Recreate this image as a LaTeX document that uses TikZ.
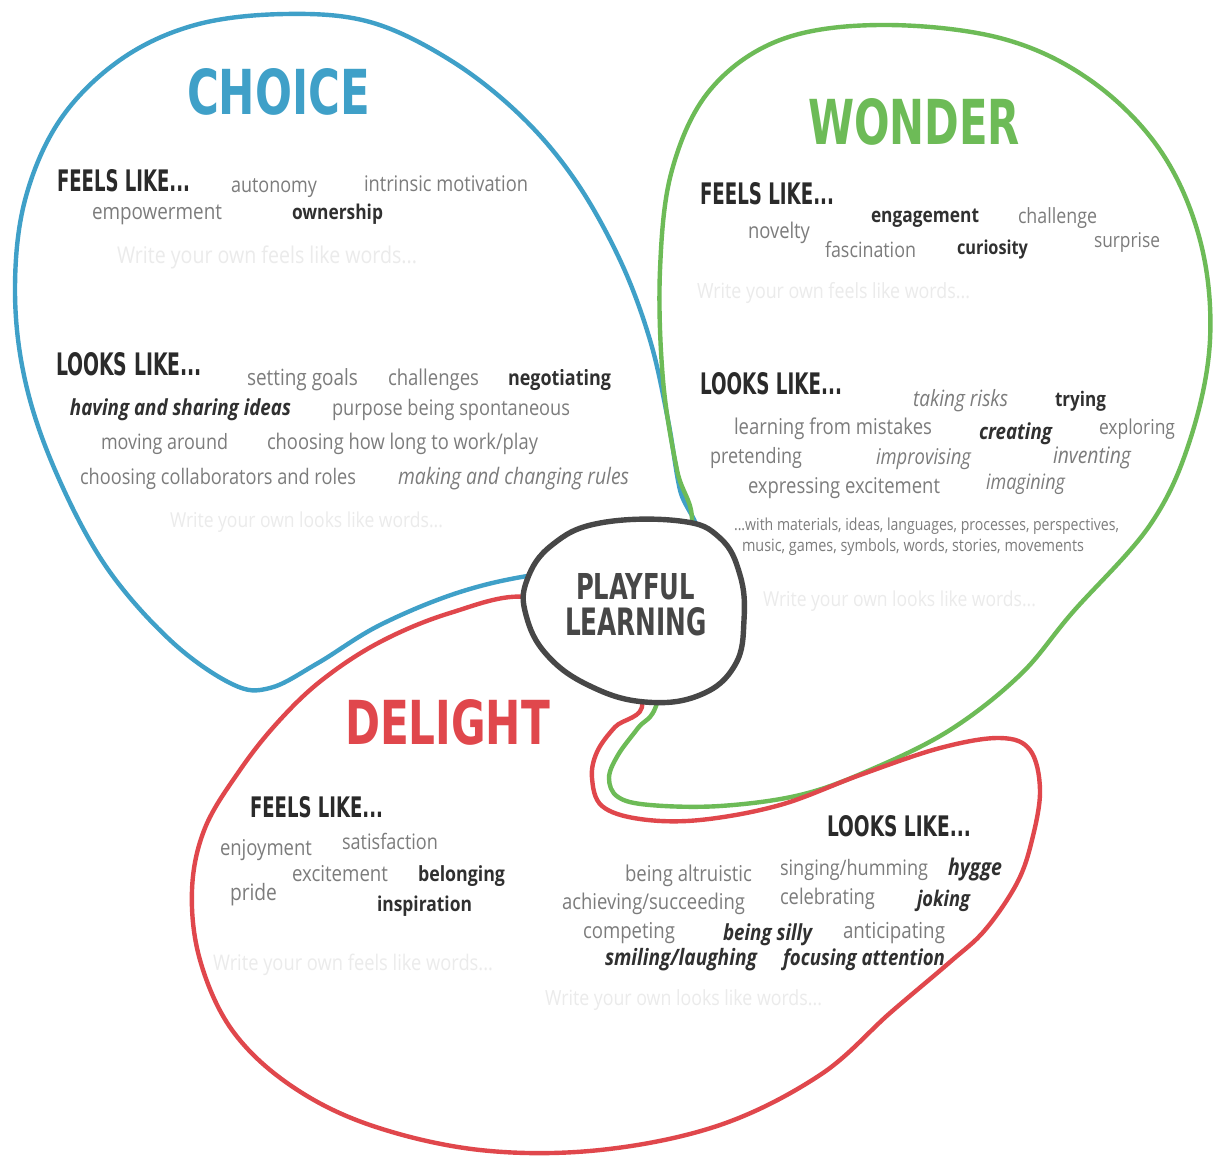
\documentclass[tikz,border=0pt]{standalone}
\usepackage{fontspec}
\usepackage{graphicx}
\newfontfamily\wordfont[FakeStretch=0.85]{Open Sans}
\newfontfamily\headfont{DejaVu Sans}
\definecolor{blueC}{HTML}{3FA0C8}
\definecolor{greenC}{HTML}{6DBB57}
\definecolor{redC}{HTML}{E0474C}
\definecolor{ringC}{HTML}{474747}
\definecolor{wordC}{HTML}{7C7C7C}
\definecolor{boldC}{HTML}{303030}
\definecolor{headC}{HTML}{2A2A2A}
\definecolor{faintC}{HTML}{EBEBEB}
\newcommand\fitw[2]{\resizebox{#1pt}{!}{#2}}
\newcommand\fitwh[3]{\resizebox{#1pt}{#2pt}{#3}}
\begin{document}
\begin{tikzpicture}[x=1pt,y=-1pt,
  every node/.style={inner sep=0pt, outer sep=0pt},
  lt/.style={text=wordC, font=\wordfont, anchor=base west},
  lti/.style={text=wordC, font=\wordfont\itshape, anchor=base west},
  bd/.style={text=boldC, font=\wordfont\bfseries, anchor=base west},
  bdi/.style={text=boldC, font=\wordfont\bfseries\itshape, anchor=base west},
  faint/.style={text=faintC, font=\wordfont, anchor=base west},
  hd/.style={text=headC, font=\headfont\bfseries, anchor=south west},
  ttl/.style={font=\headfont\bfseries, anchor=south west},
  loop/.style={line width=4.4pt, line join=round},
  ring/.style={line width=5.4pt, draw=ringC, fill=white}]
\useasboundingbox (0,0) rectangle (1213,1160);
\fill[white] (0,0) rectangle (1213,1160);

% CHOICE loop
\draw[loop, draw=blueC] plot[smooth cycle, tension=0.6] coordinates {
 (285,14) (370,22) (450,60) (520,115) (575,180) (620,260) (650,340) (668,420)
 (680,490) (695,535) (640,565) (540,574) (460,592) (380,625) (318,663) (270,688)
 (232,684) (170,640) (105,565) (55,470) (25,380) (15,290) (25,200) (60,120)
 (120,60) (195,25)};

% WONDER loop
\draw[loop, draw=greenC] plot[smooth cycle, tension=0.6] coordinates {
 (657,703) (638,728) (618,755) (609,778) (618,797) (650,805) (720,806) (800,795)
 (870,770) (950,730) (1020,675) (1072,613) (1150,525) (1190,440) (1210,340)
 (1200,240) (1160,150) (1090,80) (1000,38) (880,25) (780,40) (710,90) (672,170)
 (660,270) (663,380) (677,470) (692,525) (670,620)};

% DELIGHT loop
\draw[loop, draw=redC] plot[smooth cycle, tension=0.6] coordinates {
 (642,702) (615,727) (597,752) (592,778) (602,806) (640,819) (700,820) (780,805)
 (860,775) (940,748) (1000,738) (1030,750) (1040,790) (1032,840) (1017,883)
 (985,930) (950,962) (890,1013) (820,1075) (720,1125) (600,1150) (480,1150)
 (370,1125) (290,1085) (232,1030) (200,960) (192,890) (205,828) (240,770)
 (278,722) (322,680) (380,642) (450,613) (527,597) (600,630)};

% PLAYFUL LEARNING ring
\draw[ring] plot[smooth cycle, tension=0.7] coordinates {
 (600,523) (680,521) (720,538) (740,575) (744,620) (735,665) (700,695)
 (645,702) (590,686) (547,655) (526,615) (527,580) (552,545)};
\node[ttl, text=ringC] (pl1) at (576,600) {\fitwh{119}{26}{PLAYFUL}};
\node[ttl, text=ringC] (pl2) at (565,636) {\fitwh{142}{28}{LEARNING}};

% Titles
\node[ttl, text=blueC] (choice) at (187,115) {\fitwh{183}{46}{CHOICE}};
\node[ttl, text=greenC] (wonder) at (808,145) {\fitwh{212}{46}{WONDER}};
\node[ttl, text=redC] (delight) at (345,745) {\fitwh{205}{45}{DELIGHT}};

% CHOICE feels like
\node[hd] (cf) at (57,192) {\fitwh{133}{22}{FEELS LIKE...}};
\node[lt] (cf1) at (231,192) {\fitw{86}{autonomy}};
\node[lt] (cf2) at (364,191) {\fitw{164}{intrinsic motivation}};
\node[lt] (cf3) at (92,219) {\fitw{130}{empowerment}};
\node[bd] (cf4) at (292,219) {\fitw{91}{ownership}};
\node[faint] (cf5) at (117,263) {\fitw{300}{Write your own feels like words...}};

% CHOICE looks like
\node[hd] (cl) at (56,376) {\fitwh{146}{23}{LOOKS LIKE...}};
\node[lt] (cl1) at (247,385) {\fitw{111}{setting goals}};
\node[lt] (cl2) at (388,385) {\fitw{91}{challenges}};
\node[bd] (cl3) at (508,385) {\fitw{103}{negotiating}};
\node[bdi] (cl4) at (70,415) {\fitw{221}{having and sharing ideas}};
\node[lt] (cl5) at (332,415) {\fitw{238}{purpose being spontaneous}};
\node[lt] (cl6) at (101,449) {\fitw{127}{moving around}};
\node[lt] (cl7) at (267,449) {\fitw{271}{choosing how long to work/play}};
\node[lt] (cl8) at (80,484) {\fitw{276}{choosing collaborators and roles}};
\node[lti] (cl9) at (398,484) {\fitw{231}{making and changing rules}};
\node[faint] (cl10) at (170,527) {\fitw{273}{Write your own looks like words...}};

% WONDER feels like
\node[hd] (wf) at (700,205) {\fitwh{134}{22}{FEELS LIKE...}};
\node[bd] (wf1) at (871,222) {\fitw{108}{engagement}};
\node[lt] (wf2) at (1018,223) {\fitw{79}{challenge}};
\node[lt] (wf3) at (748,238) {\fitw{62}{novelty}};
\node[lt] (wf4) at (825,257) {\fitw{91}{fascination}};
\node[bd] (wf5) at (957,254) {\fitw{71}{curiosity}};
\node[lt] (wf6) at (1094,247) {\fitw{66}{surprise}};
\node[faint] (wf7) at (697,298) {\fitw{273}{Write your own feels like words...}};

% WONDER looks like
\node[hd] (wl) at (700,395) {\fitwh{142}{22}{LOOKS LIKE...}};
\node[lti] (wl1) at (913,406) {\fitw{95}{taking risks}};
\node[bd] (wl2) at (1055,406) {\fitw{51}{trying}};
\node[lt] (wl3) at (734,434) {\fitw{198}{learning from mistakes}};
\node[bdi] (wl4) at (979,439) {\fitw{73}{creating}};
\node[lt] (wl5) at (1099,434) {\fitw{76}{exploring}};
\node[lt] (wl6) at (710,463) {\fitw{92}{pretending}};
\node[lti] (wl7) at (876,464) {\fitw{95}{improvising}};
\node[lti] (wl8) at (1053,463) {\fitw{78}{inventing}};
\node[lt] (wl9) at (748,493) {\fitw{192}{expressing excitement}};
\node[lti] (wl10) at (986,489) {\fitw{79}{imagining}};
\node[lt] (wl11) at (734,530) {\fitw{385}{...with materials, ideas, languages, processes, perspectives,}};
\node[lt] (wl12) at (742,551) {\fitw{342}{music, games, symbols, words, stories, movements}};
\node[faint] (wl13) at (763,606) {\fitw{273}{Write your own looks like words...}};

% DELIGHT feels like
\node[hd] (df) at (250,818) {\fitwh{133}{21}{FEELS LIKE...}};
\node[lt] (df1) at (342,849) {\fitw{96}{satisfaction}};
\node[lt] (df2) at (220,855) {\fitw{92}{enjoyment}};
\node[lt] (df3) at (292,881) {\fitw{96}{excitement}};
\node[bd] (df4) at (418,881) {\fitw{87}{belonging}};
\node[lt] (df5) at (230,900) {\fitw{47}{pride}};
\node[bd] (df6) at (377,911) {\fitw{95}{inspiration}};
\node[faint] (df7) at (213,970) {\fitw{280}{Write your own feels like words...}};

% DELIGHT looks like
\node[hd] (dl) at (827,837) {\fitwh{144}{21}{LOOKS LIKE...}};
\node[lt] (dl1) at (625,881) {\fitw{127}{being altruistic}};
\node[lt] (dl2) at (780,875) {\fitw{148}{singing/humming}};
\node[bdi] (dl3) at (948,875) {\fitw{54}{hygge}};
\node[lt] (dl4) at (562,909) {\fitw{183}{achieving/succeeding}};
\node[lt] (dl5) at (780,904) {\fitw{95}{celebrating}};
\node[bdi] (dl6) at (917,906) {\fitw{53}{joking}};
\node[lt] (dl7) at (583,938) {\fitw{92}{competing}};
\node[bdi] (dl8) at (723,940) {\fitw{89}{being silly}};
\node[lt] (dl9) at (843,938) {\fitw{102}{anticipating}};
\node[bdi] (dl10) at (605,965) {\fitw{152}{smiling/laughing}};
\node[bdi] (dl11) at (783,965) {\fitw{162}{focusing attention}};
\node[faint] (dl12) at (545,1005) {\fitw{277}{Write your own looks like words...}};
\end{tikzpicture}
\end{document}
